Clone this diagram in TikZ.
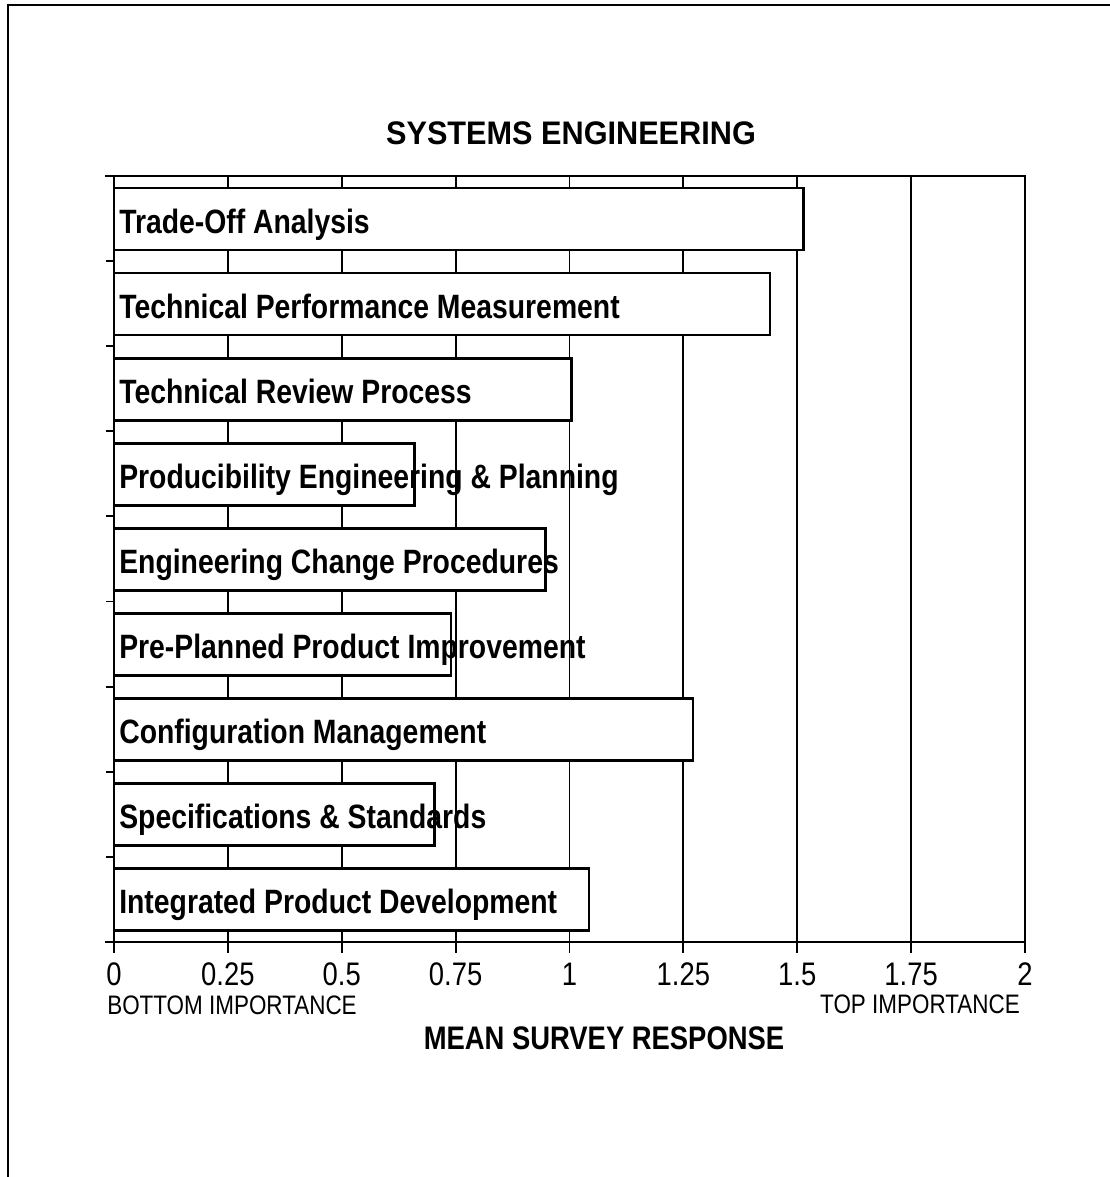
\documentclass[tikz,border=0pt]{standalone}
\usepackage{fontspec}
\setmainfont{Liberation Sans}
\newfontfamily\condfont{Liberation Sans}[FakeStretch=0.84]
\newfontfamily\widefont{Liberation Sans}[FakeStretch=0.94]
\begin{document}
\begin{tikzpicture}[
    x=0.025cm, y=-0.025cm,
    frame line/.style={line width=1.4pt},
    grid line/.style={line width=1.3pt},
    bar box/.style={draw, fill=white, line width=1.9pt},
    bar label/.style={anchor=base west, inner sep=0pt,
    font=\condfont\bfseries\fontsize{24}{26}\selectfont},
    tick label/.style={anchor=base, inner sep=0pt,
    font=\condfont\fontsize{23.2}{24}\selectfont},
    end label/.style={inner sep=0pt,
    font=\condfont\fontsize{19}{20}\selectfont},
    axis title/.style={anchor=base, inner sep=0pt,
    font=\condfont\bfseries\fontsize{23.2}{24}\selectfont},
    chart title/.style={anchor=base, inner sep=0pt,
    font=\widefont\bfseries\fontsize{23.2}{24}\selectfont}]
    \def\vx#1{114+455.5*#1}
    \def\rowbar#1#2#3#4{
        \draw[bar box] (114,{176+85.1*#1+12}) rectangle ({\vx{#2}},{176+85.1*#1+74});
        \node[bar label] (#3) at (119,{176+85.1*#1+57}) {#4};}

    \useasboundingbox (0,0) rectangle (1110,1177);
    \draw[frame line] (8,1177) -- (8,5) -- (1110,5);

    \node[chart title] (title) at (571,144) {SYSTEMS ENGINEERING};

    \foreach \v in {0.25,0.5,0.75,1,1.25,1.5,1.75}
        \draw[grid line] ({\vx{\v}},176) -- ({\vx{\v}},942);
    \draw[frame line] (105,176) -- (1025,176) -- (1025,942) -- (105,942);

    \rowbar{0}{1.513}{tradeoff}{Trade-Off Analysis}
    \rowbar{1}{1.44}{tpm}{Technical Performance Measurement}
    \rowbar{2}{1.005}{review}{Technical Review Process}
    \rowbar{3}{0.66}{produce}{Producibility Engineering \& Planning}
    \rowbar{4}{0.948}{change}{Engineering Change Procedures}
    \rowbar{5}{0.74}{preplan}{Pre-Planned Product Improvement}
    \rowbar{6}{1.271}{config}{Configuration Management}
    \rowbar{7}{0.703}{specs}{Specifications \& Standards}
    \rowbar{8}{1.043}{ipd}{Integrated Product Development}

    \draw[frame line] (114,176) -- (114,953);
    \foreach \k in {1,...,8}
        \draw[frame line] (106,{176+85.1*\k}) -- (114,{176+85.1*\k});
    \foreach \v in {0,0.25,0.5,0.75,1,1.25,1.5,1.75,2}{
        \draw[frame line] ({\vx{\v}},942) -- ({\vx{\v}},953);
        \node[tick label] (tick\v) at ({\vx{\v}},985) {\v};}

    \node[end label, anchor=base west] (bottom) at (107,1014) {BOTTOM IMPORTANCE};
    \node[end label, anchor=base east] (top) at (1020,1013) {TOP IMPORTANCE};
    \node[axis title] (xtitle) at (604,1049) {MEAN SURVEY RESPONSE};
\end{tikzpicture}
\end{document}
